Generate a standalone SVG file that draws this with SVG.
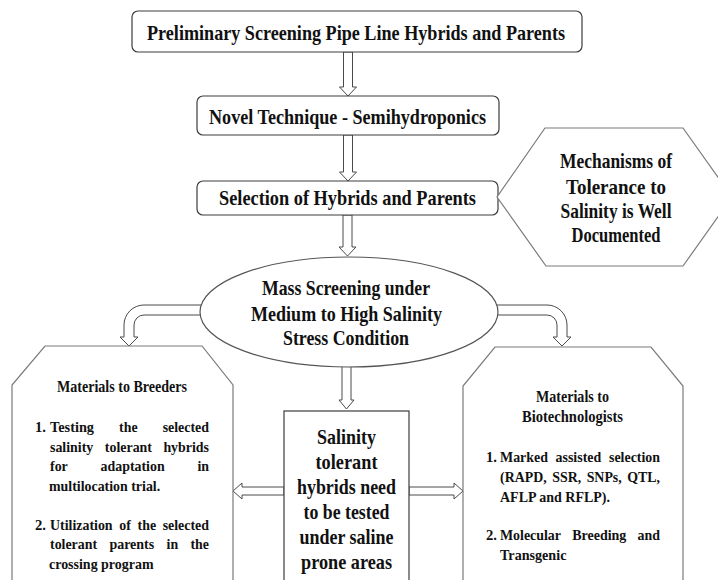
<svg xmlns="http://www.w3.org/2000/svg" width="718" height="580" viewBox="0 0 718 580">
<style>
.bx{fill:#fff;stroke:#3c3c3c;stroke-width:1.2}
.sh{fill:#fff;stroke:#7a7a7a;stroke-width:1.2}
.ar{fill:#fff;stroke:#4a4a4a;stroke-width:1}
.t{font-family:"Liberation Serif","Times New Roman",serif;font-weight:bold;fill:#111}
.h{font-size:22px;text-anchor:middle}
.c{font-size:21px;text-anchor:middle}
.m{font-size:16px;text-anchor:middle}
.l{font-size:14.5px}
.e{text-anchor:end}
.mid{text-anchor:middle}
</style>
<rect width="718" height="580" fill="#fff"/>
<g id="connectors">
<path class="ar" d="M343.5,52 V87 H339.5 L348,96 L356.5,87 H352.5 V52 Z"/>
<path class="ar" d="M343.5,135 V172 H339.5 L348,181 L356.5,172 H352.5 V135 Z"/>
<path class="ar" d="M343,215 V247 H339 L347.5,256 L356,247 H352 V215 Z"/>
<path class="ar" d="M342,365 V400 H339 L346.5,409 L354,400 H351 V365 Z"/>
<path class="ar" d="M284,487 H242 V483 L233,491 L242,499 V495 H284 Z"/>
<path class="ar" d="M409,487 H454 V483 L463,491 L454,499 V495 H409 Z"/>
<path class="ar" d="M210,305 H144 A20,20 0 0 0 124,325 V337 H120 L129,346 L138,337 H134 V325 A10,10 0 0 1 144,315 H210 Z"/>
<path class="ar" d="M488,305 H547 A20,20 0 0 1 567,325 V337 H571 L562,346 L553,337 H557 V325 A10,10 0 0 0 547,315 H488 Z"/>
</g>
<g id="n-prelim">
<rect class="bx" x="132" y="11" width="450" height="41" rx="6"/>
<text class="t h" x="356" y="40" textLength="418" lengthAdjust="spacingAndGlyphs">Preliminary Screening Pipe Line Hybrids and Parents</text>
</g>
<g id="n-novel">
<rect class="bx" x="197" y="96" width="302" height="39" rx="6"/>
<text class="t h" x="347.5" y="124" textLength="277" lengthAdjust="spacingAndGlyphs">Novel Technique - Semihydroponics</text>
</g>
<g id="n-selection">
<rect class="bx" x="197" y="181" width="301" height="34" rx="6"/>
<text class="t h" x="347.5" y="205" textLength="257" lengthAdjust="spacingAndGlyphs">Selection of Hybrids and Parents</text>
</g>
<g id="n-mechanisms">
<polygon class="sh" points="545,128 683,128 732,197 683,266 546,266 497,197"/>
<text class="t h" x="616" y="168" textLength="112" lengthAdjust="spacingAndGlyphs">Mechanisms of</text>
<text class="t h" x="616" y="194" textLength="100" lengthAdjust="spacingAndGlyphs">Tolerance to</text>
<text class="t h" x="616" y="218" textLength="111" lengthAdjust="spacingAndGlyphs">Salinity is Well</text>
<text class="t h" x="616" y="242" textLength="89" lengthAdjust="spacingAndGlyphs">Documented</text>
</g>
<g id="n-mass">
<ellipse class="bx" cx="349" cy="312" rx="149" ry="55" style="stroke:#555"/>
<text class="t h" x="346" y="295" textLength="168" lengthAdjust="spacingAndGlyphs">Mass Screening under</text>
<text class="t h" x="346.5" y="321" textLength="191" lengthAdjust="spacingAndGlyphs">Medium to High Salinity</text>
<text class="t h" x="346" y="345" textLength="126" lengthAdjust="spacingAndGlyphs">Stress Condition</text>
</g>
<g id="n-breeders">
<polygon class="sh" points="12,620 12,385 45,346 202,346 233,385 233,620"/>
<text class="t m" x="122" y="392" textLength="130" lengthAdjust="spacingAndGlyphs">Materials to Breeders</text>
<text class="t l" x="35" y="432" textLength="11" lengthAdjust="spacingAndGlyphs">1.</text>
<text class="t l" x="50" y="432" textLength="44" lengthAdjust="spacingAndGlyphs">Testing</text>
<text class="t l mid" x="128.3" y="432" textLength="18.5" lengthAdjust="spacingAndGlyphs">the</text>
<text class="t l e" x="209" y="432" textLength="46.3" lengthAdjust="spacingAndGlyphs">selected</text>
<text class="t l" x="50" y="452" textLength="43.3" lengthAdjust="spacingAndGlyphs">salinity</text>
<text class="t l mid" x="128.4" y="452" textLength="47.1" lengthAdjust="spacingAndGlyphs">tolerant</text>
<text class="t l e" x="209" y="452" textLength="45.6" lengthAdjust="spacingAndGlyphs">hybrids</text>
<text class="t l" x="50" y="471" textLength="17.8" lengthAdjust="spacingAndGlyphs">for</text>
<text class="t l mid" x="132.6" y="471" textLength="64.1" lengthAdjust="spacingAndGlyphs">adaptation</text>
<text class="t l e" x="209" y="471" textLength="11.6" lengthAdjust="spacingAndGlyphs">in</text>
<text class="t l" x="49" y="491" textLength="111.2" lengthAdjust="spacingAndGlyphs">multilocation trial.</text>
<text class="t l" x="35" y="530" textLength="11" lengthAdjust="spacingAndGlyphs">2.</text>
<text class="t l" x="50" y="530" textLength="62.6" lengthAdjust="spacingAndGlyphs">Utilization</text>
<text class="t l mid" x="125.1" y="530" textLength="11.6" lengthAdjust="spacingAndGlyphs">of</text>
<text class="t l mid" x="146.8" y="530" textLength="18.5" lengthAdjust="spacingAndGlyphs">the</text>
<text class="t l e" x="209" y="530" textLength="46.3" lengthAdjust="spacingAndGlyphs">selected</text>
<text class="t l" x="50" y="549" textLength="47.1" lengthAdjust="spacingAndGlyphs">tolerant</text>
<text class="t l mid" x="131.8" y="549" textLength="44.8" lengthAdjust="spacingAndGlyphs">parents</text>
<text class="t l mid" x="172.4" y="549" textLength="11.6" lengthAdjust="spacingAndGlyphs">in</text>
<text class="t l e" x="209" y="549" textLength="18.5" lengthAdjust="spacingAndGlyphs">the</text>
<text class="t l" x="49" y="569" textLength="104.6" lengthAdjust="spacingAndGlyphs">crossing program</text>
</g>
<g id="n-tested">
<rect class="bx" x="284" y="411" width="125" height="200"/>
<text class="t c" x="346.5" y="444" textLength="59" lengthAdjust="spacingAndGlyphs">Salinity</text>
<text class="t c" x="346.5" y="469" textLength="62" lengthAdjust="spacingAndGlyphs">tolerant</text>
<text class="t c" x="346.5" y="494" textLength="99" lengthAdjust="spacingAndGlyphs">hybrids need</text>
<text class="t c" x="346.5" y="519" textLength="86" lengthAdjust="spacingAndGlyphs">to be tested</text>
<text class="t c" x="346.5" y="544" textLength="94" lengthAdjust="spacingAndGlyphs">under saline</text>
<text class="t c" x="346.5" y="569" textLength="91" lengthAdjust="spacingAndGlyphs">prone areas</text>
</g>
<g id="n-biotech">
<polygon class="sh" points="463,620 463,386 495,347 651,347 683,386 683,620"/>
<text class="t m" x="572.5" y="402" textLength="73" lengthAdjust="spacingAndGlyphs">Materials to</text>
<text class="t m" x="572.5" y="422" textLength="101" lengthAdjust="spacingAndGlyphs">Biotechnologists</text>
<text class="t l" x="486" y="462" textLength="11" lengthAdjust="spacingAndGlyphs">1.</text>
<text class="t l" x="500" y="462" textLength="47.9" lengthAdjust="spacingAndGlyphs">Marked</text>
<text class="t l mid" x="578.4" y="462" textLength="45.6" lengthAdjust="spacingAndGlyphs">assisted</text>
<text class="t l e" x="660" y="462" textLength="51" lengthAdjust="spacingAndGlyphs">selection</text>
<text class="t l" x="500" y="482" textLength="46.7" lengthAdjust="spacingAndGlyphs">(RAPD,</text>
<text class="t l mid" x="566.7" y="482" textLength="29" lengthAdjust="spacingAndGlyphs">SSR,</text>
<text class="t l mid" x="604.2" y="482" textLength="35.1" lengthAdjust="spacingAndGlyphs">SNPs,</text>
<text class="t l e" x="660" y="482" textLength="32.8" lengthAdjust="spacingAndGlyphs">QTL,</text>
<text class="t l" x="500" y="502" textLength="110" lengthAdjust="spacingAndGlyphs">AFLP and RFLP).</text>
<text class="t l" x="486" y="540" textLength="11" lengthAdjust="spacingAndGlyphs">2.</text>
<text class="t l" x="500" y="540" textLength="61" lengthAdjust="spacingAndGlyphs">Molecular</text>
<text class="t l mid" x="599.3" y="540" textLength="54.1" lengthAdjust="spacingAndGlyphs">Breeding</text>
<text class="t l e" x="660" y="540" textLength="22.4" lengthAdjust="spacingAndGlyphs">and</text>
<text class="t l" x="500" y="560" textLength="66.4" lengthAdjust="spacingAndGlyphs">Transgenic</text>
</g>
</svg>
